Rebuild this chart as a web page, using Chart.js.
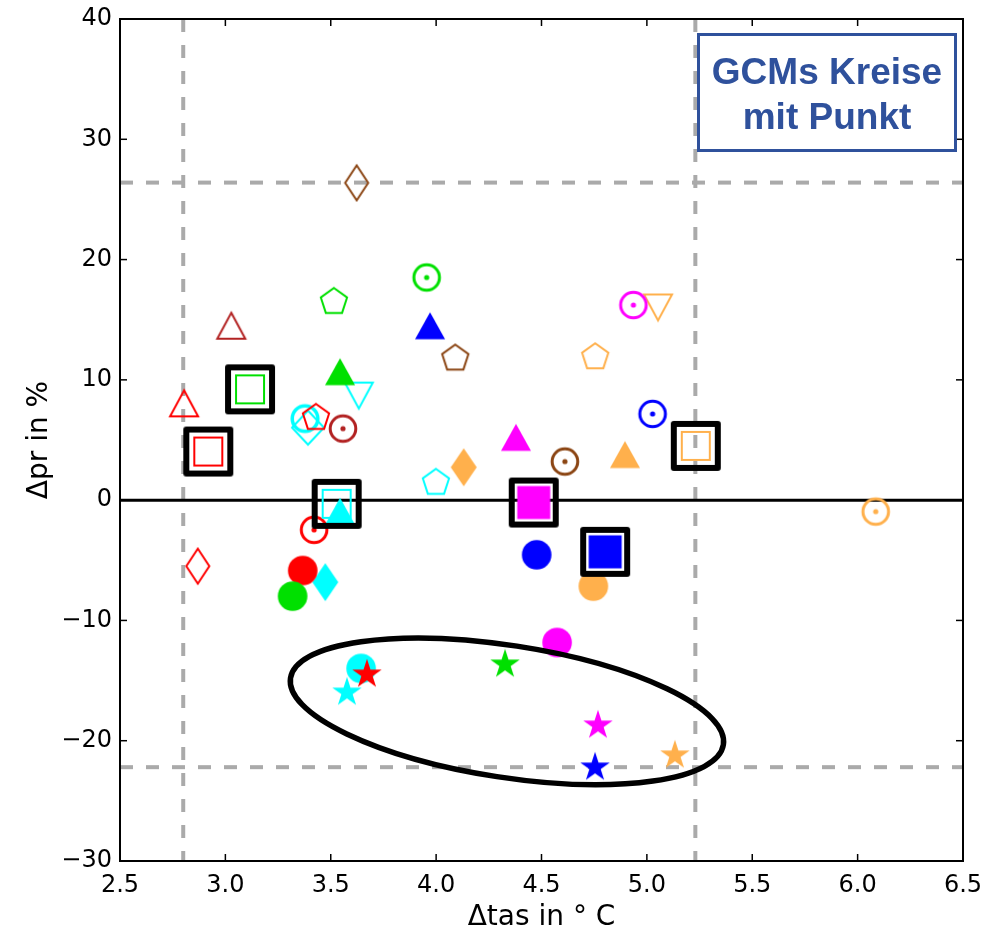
<!DOCTYPE html>
<html><head><meta charset="utf-8">
<script src="https://cdn.jsdelivr.net/npm/chart.js@4.4.0/dist/chart.umd.min.js"></script>
<style>html,body{margin:0;padding:0;background:#fff;}#wrap{width:985px;height:929px;}</style>
</head><body><div id="wrap"><canvas id="c" width="985" height="929"></canvas></div>
<script>
// ---------------- data ----------------
const xTicks = [2.5, 3.0, 3.5, 4.0, 4.5, 5.0, 5.5, 6.0, 6.5];
const yTicks = [-30, -20, -10, 0, 10, 20, 30, 40];
const tasBounds = [2.80, 5.23];     // dashed vertical limits (°C)
const prBounds = [-22.2, 26.4];     // dashed horizontal limits (%)
const ellipseCenter = [4.336, -17.56];

// GCM key of each point: A red, B cyan, C green, D magenta, E blue, F orange, G brown, H dark red
const starTas = [3.672, 3.577, 4.327, 4.768, 5.133, 4.754];
const starPr  = [-14.40, -15.90, -13.57, -18.64, -21.13, -22.13];
const starGcm = ['A', 'B', 'C', 'D', 'F', 'E'];

const circleTas = [4.574, 3.644, 3.367, 3.319, 4.477, 4.746];
const circlePr  = [-11.83, -13.99, -5.85, -7.98, -4.54, -7.15];
const circleGcm = ['D', 'B', 'A', 'C', 'E', 'F'];

const dotCircleTas = [3.955, 4.936, 5.027, 3.558, 4.611, 3.421, 6.086];
const dotCirclePr  = [18.51, 16.22, 7.17, 5.95, 3.21, -2.47, -0.95];
const dotCircleGcm = ['C', 'D', 'E', 'H', 'G', 'A', 'F'];

const ringTas = [3.378];
const ringPr  = [6.78];
const ringGcm = ['B'];

const triTas = [3.971, 3.544, 4.379, 4.896, 3.544];
const triPr  = [14.50, 10.68, 5.22, 3.79, -0.92];
const triGcm = ['E', 'C', 'D', 'F', 'B'];

const openTriTas = [3.028, 2.804];
const openTriPr  = [14.50, 8.05];
const openTriGcm = ['H', 'A'];

const downTriTas = [5.053, 3.633];
const downTriPr  = [16.02, 8.69];
const downTriGcm = ['F', 'B'];

const pentTas = [3.515, 4.091, 4.755, 3.430, 3.999];
const pentPr  = [16.58, 11.87, 11.98, 6.94, 1.54];
const pentGcm = ['C', 'G', 'F', 'A', 'B'];

const thinDiaTas = [3.623, 2.869];
const thinDiaPr  = [26.38, -5.49];
const thinDiaGcm = ['G', 'A'];

const thinDiaFillTas = [4.131, 3.474];
const thinDiaFillPr  = [2.73, -6.82];
const thinDiaFillGcm = ['F', 'B'];

const diaTas = [3.392];
const diaPr  = [6.03];
const diaGcm = ['B'];

const boxTas = [3.117, 2.919, 3.528, 5.232];
const boxPr  = [9.21, 4.04, -0.31, 4.51];
const boxGcm = ['C', 'A', 'B', 'F'];

const boxFillTas = [4.463, 4.802];
const boxFillPr  = [-0.20, -4.30];
const boxFillGcm = ['D', 'E'];

// ---------------- styles ----------------
const gcmColor = {A:'#ff0000', B:'#00ffff', C:'#00e000', D:'#ff00ff', E:'#0000ff', F:'#ffb04c', G:'#8b4513', H:'#b22222'};

function marker(kind, color) {
  const S = 64, cv = document.createElement('canvas');
  cv.width = S; cv.height = S;
  const g = cv.getContext('2d');
  g.translate(S / 2, S / 2);
  g.strokeStyle = color; g.fillStyle = color; g.lineWidth = 2; g.lineJoin = 'miter';
  const poly = (pts) => { g.beginPath(); pts.forEach((p, i) => i ? g.lineTo(p[0], p[1]) : g.moveTo(p[0], p[1])); g.closePath(); };
  const frame = () => { g.save(); g.strokeStyle = '#000'; g.lineWidth = 6; g.lineJoin = 'round'; g.strokeRect(-22, -22, 44, 44); g.restore(); };
  switch (kind) {
    case 'star': {
      const pts = [];
      for (let k = 0; k < 10; k++) { const r = k % 2 ? 15.5 * 0.382 : 15.5; const a = -Math.PI / 2 + k * Math.PI / 5; pts.push([r * Math.cos(a), r * Math.sin(a) + 1]); }
      poly(pts); g.fill(); break; }
    case 'circle': g.beginPath(); g.arc(0, 0, 14.8, 0, 2 * Math.PI); g.fill(); break;
    case 'dotCircle':
      g.lineWidth = 3; g.beginPath(); g.arc(0, 0, 12.8, 0, 2 * Math.PI); g.stroke();
      g.beginPath(); g.arc(0, 0, 2.6, 0, 2 * Math.PI); g.fill(); break;
    case 'ring': g.lineWidth = 3.5; g.beginPath(); g.arc(0, 0, 12.8, 0, 2 * Math.PI); g.stroke(); break;
    case 'tri': poly([[0, -13.5], [15, 13.5], [-15, 13.5]]); g.fill(); break;
    case 'openTri': poly([[0, -13], [14, 13], [-14, 13]]); g.stroke(); break;
    case 'downTri': poly([[-14, -13], [14, -13], [0, 13]]); g.stroke(); break;
    case 'pent': {
      const pts = [];
      for (let k = 0; k < 5; k++) { const a = -Math.PI / 2 + k * 2 * Math.PI / 5; pts.push([13.8 * Math.cos(a), 13.8 * Math.sin(a) + 1]); }
      poly(pts); g.stroke(); break; }
    case 'thinDia': poly([[0, -17.5], [11.5, 0], [0, 17.5], [-11.5, 0]]); g.stroke(); break;
    case 'thinDiaFill': poly([[0, -19], [13, 0], [0, 19], [-13, 0]]); g.fill(); break;
    case 'dia': poly([[0, -17], [16, 0], [0, 17], [-16, 0]]); g.stroke(); break;
    case 'box': g.strokeRect(-14, -14, 28, 28); frame(); break;
    case 'boxFill': g.fillRect(-16.5, -16.5, 33, 33); frame(); break;
  }
  return cv;
}

function makeSet(label, kind, tas, pr, gcm) {
  return {
    label,
    data: tas.map((v, i) => ({x: v, y: pr[i]})),
    pointStyle: gcm.map(k => marker(kind, gcmColor[k])),
    pointRadius: 12, pointHoverRadius: 12,
    backgroundColor: gcm.map(k => gcmColor[k]),
    borderColor: gcm.map(k => gcmColor[k]),
    showLine: false
  };
}

// first dataset is drawn on top
const datasets = [
  makeSet('framed filled', 'boxFill', boxFillTas, boxFillPr, boxFillGcm),
  makeSet('framed', 'box', boxTas, boxPr, boxGcm),
  makeSet('star', 'star', starTas, starPr, starGcm),
  makeSet('triangle', 'tri', triTas, triPr, triGcm),
  makeSet('pentagon', 'pent', pentTas, pentPr, pentGcm),
  makeSet('dot circle', 'dotCircle', dotCircleTas, dotCirclePr, dotCircleGcm),
  makeSet('circle', 'circle', circleTas, circlePr, circleGcm),
  makeSet('thin diamond filled', 'thinDiaFill', thinDiaFillTas, thinDiaFillPr, thinDiaFillGcm),
  makeSet('thin diamond', 'thinDia', thinDiaTas, thinDiaPr, thinDiaGcm),
  makeSet('open triangle', 'openTri', openTriTas, openTriPr, openTriGcm),
  makeSet('down triangle', 'downTri', downTriTas, downTriPr, downTriGcm),
  makeSet('ring', 'ring', ringTas, ringPr, ringGcm),
  makeSet('diamond', 'dia', diaTas, diaPr, diaGcm)
];

const decor = {
  id: 'decor',
  beforeDatasetsDraw(chart) {
    const {ctx, chartArea: a, scales: {x, y}} = chart;
    const line = (x1, y1, x2, y2) => { ctx.beginPath(); ctx.moveTo(x1, y1); ctx.lineTo(x2, y2); ctx.stroke(); };
    ctx.save();
    ctx.beginPath(); ctx.rect(a.left, a.top, a.right - a.left, a.bottom - a.top); ctx.clip();
    ctx.strokeStyle = '#aaaaaa'; ctx.lineWidth = 4; ctx.setLineDash([13, 13]);
    tasBounds.forEach(v => { const px = x.getPixelForValue(v); line(px, a.top, px, a.bottom); });
    prBounds.forEach(v => { const py = y.getPixelForValue(v); line(a.left, py, a.right, py); });
    ctx.setLineDash([]); ctx.strokeStyle = '#000'; ctx.lineWidth = 3;
    const y0 = y.getPixelForValue(0); line(a.left, y0, a.right, y0);
    ctx.restore();
  },
  afterDatasetsDraw(chart) {
    const {ctx, chartArea: a, scales: {x, y}} = chart;
    const line = (x1, y1, x2, y2) => { ctx.beginPath(); ctx.moveTo(x1, y1); ctx.lineTo(x2, y2); ctx.stroke(); };
    ctx.save();
    // ellipse annotation
    ctx.strokeStyle = '#000'; ctx.lineWidth = 5.5;
    ctx.beginPath();
    ctx.ellipse(x.getPixelForValue(ellipseCenter[0]), y.getPixelForValue(ellipseCenter[1]), 219, 66, 8.75 * Math.PI / 180, 0, 2 * Math.PI);
    ctx.stroke();
    // axes frame and inward ticks
    ctx.lineWidth = 2; ctx.strokeRect(a.left, a.top, a.right - a.left, a.bottom - a.top);
    ctx.lineWidth = 1.5;
    xTicks.forEach(v => { const px = x.getPixelForValue(v); line(px, a.bottom, px, a.bottom - 7); line(px, a.top, px, a.top + 7); });
    yTicks.forEach(v => { const py = y.getPixelForValue(v); line(a.left, py, a.left + 7, py); line(a.right, py, a.right - 7, py); });
    // text box
    ctx.fillStyle = '#fff'; ctx.strokeStyle = '#2f519c'; ctx.lineWidth = 3;
    ctx.fillRect(a.right - 264.5, a.top + 15.5, 257, 116);
    ctx.strokeRect(a.right - 264.5, a.top + 15.5, 257, 116);
    ctx.fillStyle = '#2f519c'; ctx.font = 'bold 37px "Liberation Sans", Arial, sans-serif';
    ctx.textAlign = 'center'; ctx.textBaseline = 'alphabetic';
    ctx.fillText('GCMs Kreise', a.right - 136, a.top + 65);
    ctx.fillText('mit Punkt', a.right - 136, a.top + 110);
    ctx.restore();
  }
};

const tickFont = {family: '"DejaVu Sans", sans-serif', size: 24};
const titleFont = {family: '"DejaVu Sans", sans-serif', size: 28, lineHeight: 1};

new Chart(document.getElementById('c'), {
  type: 'scatter',
  data: {datasets},
  options: {
    responsive: false, animation: false, devicePixelRatio: 1,
    layout: {padding: {top: 19, right: 22, left: 0, bottom: 0}},
    plugins: {legend: {display: false}, tooltip: {enabled: false}},
    scales: {
      x: {
        type: 'linear', min: 2.5, max: 6.5,
        afterBuildTicks: s => { s.ticks = xTicks.map(v => ({value: v})); },
        afterFit: s => { s.height = 68; s.paddingLeft = 0; s.paddingRight = 0; },
        grid: {display: false, drawTicks: false}, border: {display: false},
        ticks: {font: tickFont, color: '#000', padding: 10, maxRotation: 0, callback: v => v.toFixed(1)},
        title: {display: true, text: 'Δtas in ° C', font: titleFont, color: '#000', padding: {top: 0, bottom: -3}}
      },
      y: {
        type: 'linear', min: -30, max: 40,
        afterBuildTicks: s => { s.ticks = yTicks.map(v => ({value: v})); },
        afterFit: s => { s.width = 120; s.paddingTop = 0; s.paddingBottom = 0; },
        grid: {display: false, drawTicks: false}, border: {display: false},
        ticks: {font: tickFont, color: '#000', padding: 8, callback: v => v < 0 ? '\u2212' + Math.abs(v) : String(v)},
        title: {display: true, text: 'Δpr in %', font: titleFont, color: '#000', padding: {top: 26, bottom: 0}}
      }
    }
  },
  plugins: [decor]
});
</script>
</body></html>
